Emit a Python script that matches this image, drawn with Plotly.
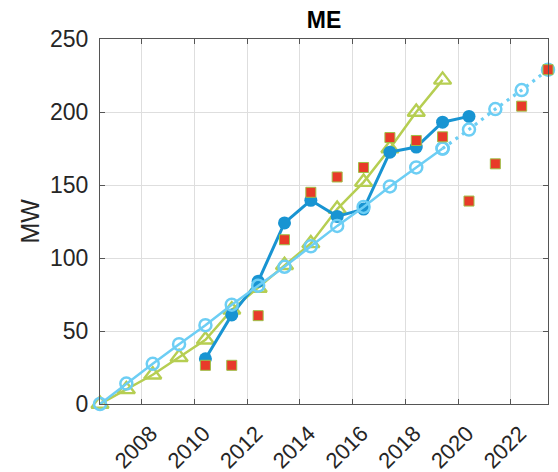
import plotly.graph_objects as go

# ---- data ----
dates_all = ["2006-06-01", "2007-06-01", "2008-06-01", "2009-06-01", "2010-06-01",
             "2011-06-01", "2012-06-01", "2013-06-01", "2014-06-01", "2015-06-01",
             "2016-06-01", "2017-06-01", "2018-06-01", "2019-06-01", "2020-06-01",
             "2021-06-01", "2022-06-01", "2023-06-01"]

cyan_hist_dates = dates_all[0:14]
cyan_hist = [0, 14, 27.5, 41, 54, 68, 81, 94, 108, 122, 135, 149, 162, 175]

cyan_proj_dates = dates_all[13:18]
cyan_proj = [175, 188, 202, 215, 229]

blue_dates = dates_all[4:15]
blue_vals = [31, 61, 84, 124, 139.5, 128.5, 133.5, 172.5, 176, 193, 197]

green_dates = dates_all[0:14]
green_vals = [0, 10, 20, 32, 44, 64.5, 79.5, 95, 110, 133.5, 152, 175, 200, 222]

red_dates = dates_all[4:18]
red_vals = [26.5, 26.5, 60.5, 112.5, 145, 155.5, 162, 182.5, 180.5, 183, 139, 164.5, 204, 229]

title_text = "ME"
ylabel_text = "MW"
ytick_vals = [0, 50, 100, 150, 200, 250]

# ---- styles ----
C_CYAN = "#6dcef4"
C_BLUE = "#1894d2"
C_GREEN = "#b6ce52"
C_RED = "#e83a29"
AX = "#262626"
FONT = "Liberation Sans, Arial, sans-serif"

fig = go.Figure()

fig.add_trace(go.Scatter(
    x=green_dates, y=green_vals, mode="lines+markers", cliponaxis=False,
    line=dict(color=C_GREEN, width=2.5),
    marker=dict(symbol="triangle-up-open", size=15, color=C_GREEN, line=dict(width=2.4, color=C_GREEN)),
    showlegend=False))

fig.add_trace(go.Scatter(
    x=blue_dates, y=blue_vals, mode="lines+markers", cliponaxis=False,
    line=dict(color=C_BLUE, width=3),
    marker=dict(symbol="circle", size=13, color=C_BLUE),
    showlegend=False))

fig.add_trace(go.Scatter(
    x=cyan_hist_dates, y=cyan_hist, mode="lines+markers", cliponaxis=False,
    line=dict(color=C_CYAN, width=2.5),
    marker=dict(symbol="circle-open", size=12, color=C_CYAN, line=dict(width=2.5, color=C_CYAN)),
    showlegend=False))

fig.add_trace(go.Scatter(
    x=cyan_proj_dates, y=cyan_proj, mode="lines+markers", cliponaxis=False,
    line=dict(color=C_CYAN, width=3.2, dash="3px,5px"),
    marker=dict(symbol="circle-open", size=12, color=C_CYAN, line=dict(width=2.5, color=C_CYAN)),
    showlegend=False))

fig.add_trace(go.Scatter(
    x=red_dates, y=red_vals, mode="markers", cliponaxis=False,
    marker=dict(symbol="square", size=10, color=C_RED, line=dict(width=1, color="#9fbf45")),
    showlegend=False))

axis_common = dict(
    showline=True, linecolor="#555555", linewidth=1, mirror="ticks",
    ticks="inside", ticklen=5, tickcolor="#555555",
    showgrid=True, gridcolor="#dedede", gridwidth=1,
    zeroline=False, tickfont=dict(family=FONT, size=22, color=AX),
)

fig.update_layout(
    width=558, height=472,
    margin=dict(l=100, r=10, t=38.5, b=67.5, autoexpand=False),
    paper_bgcolor="white", plot_bgcolor="white",
    font=dict(family=FONT, color=AX),
    title=dict(text="<b>" + title_text + "</b>", x=0.5, xref="paper", xanchor="center",
               y=1 - 20 / 472, yref="container", yanchor="middle",
               font=dict(family=FONT, size=23, color="#000000")),
    xaxis=dict(type="date", range=["2006-06-01", "2023-06-01"],
               tick0="2008-01-01", dtick="M24", tickformat="%Y", tickangle=-45,
               ticklabelshift=9, ticklabelstandoff=7,
               **axis_common),
    yaxis=dict(range=[0, 250], tickvals=ytick_vals, ticklabelstandoff=6,
               **{**axis_common, "tickfont": dict(family=FONT, size=23, color=AX)}),
    annotations=[dict(text=ylabel_text, textangle=-90, xref="paper", yref="paper",
                      x=(29 - 100) / 448, y=0.5, xanchor="center", yanchor="middle",
                      showarrow=False, font=dict(family=FONT, size=25, color=AX))],
)

fig.write_html("out.html", config={"displayModeBar": False},
               post_script="document.body.style.margin='0';document.body.style.overflow='hidden';")
